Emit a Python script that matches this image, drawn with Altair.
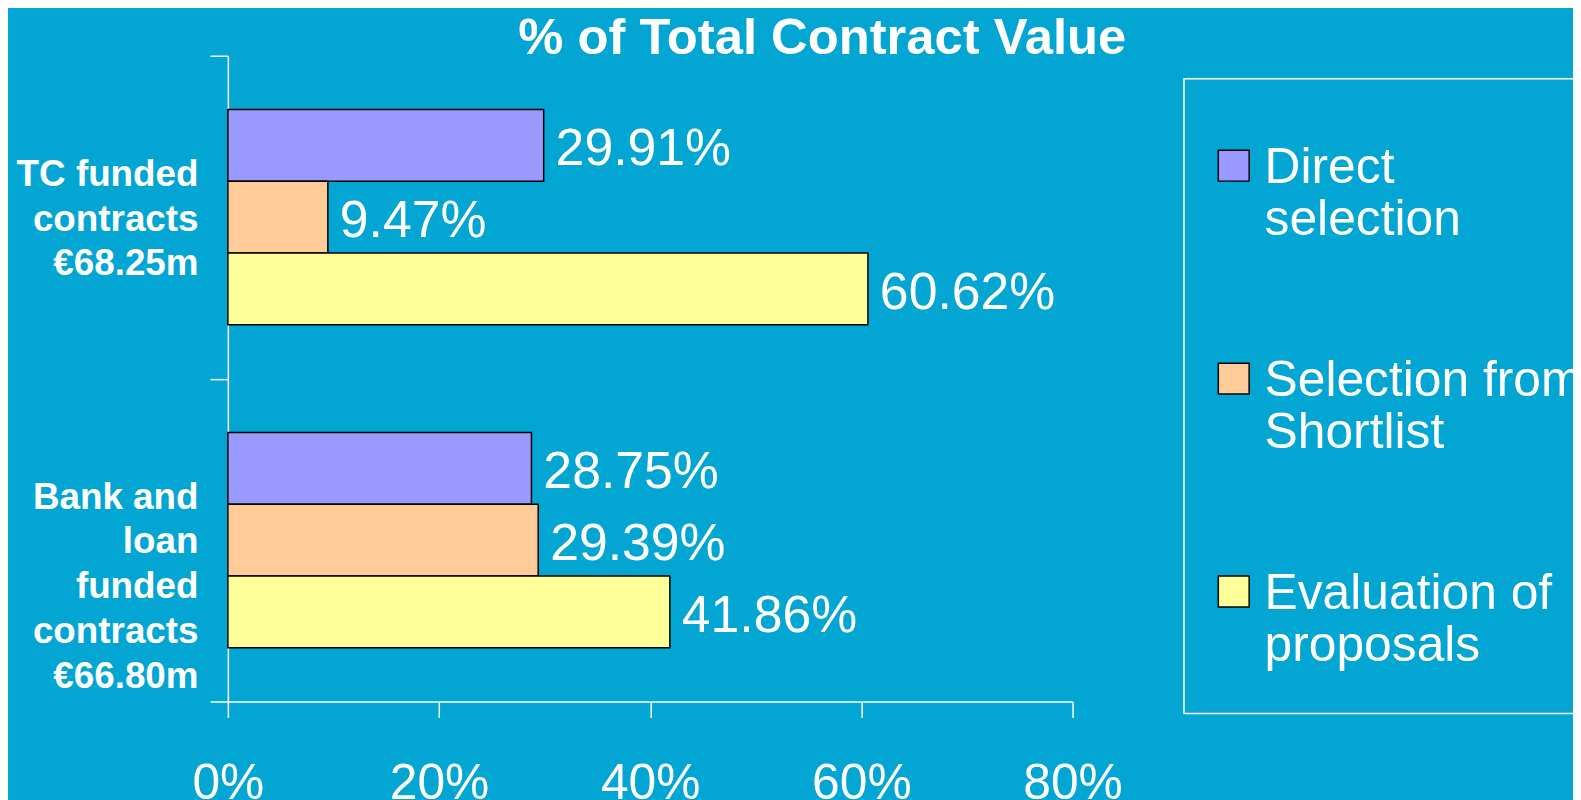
import altair as alt
import pandas as pd

# ---- data ----
categories = ["TC funded\ncontracts\n€68.25m", "Bank and\nloan\nfunded\ncontracts\n€66.80m"]
methods = ["Direct\nselection", "Selection from\nShortlist", "Evaluation of\nproposals"]
tc_values = [29.91, 9.47, 60.62]
bank_values = [28.75, 29.39, 41.86]
method_colors = ["#9999FF", "#FFCC99", "#FFFF99"]
x_ticks = [0, 20, 40, 60, 80]
title_text = "% of Total Contract Value"

rows = []
for cat, vals in zip(categories, [tc_values, bank_values]):
    for m, v in zip(methods, vals):
        rows.append({"contract": cat, "method": m, "share": v})
df = pd.DataFrame(rows)

FONT = "Liberation Sans"
BG = "#03A5D3"

x_enc = alt.X(
    "share:Q",
    scale=alt.Scale(domain=[0, 80]),
    axis=alt.Axis(
        title=None, values=x_ticks, labelExpr="datum.value + '%'",
        labelFont=FONT, labelFontSize=50, labelColor="white", labelPadding=42,
        labelFlush=False,
        tickSize=16, tickColor="white", tickWidth=1.5,
        domainColor="white", domainWidth=1.5, grid=False,
    ),
)
y_enc = alt.Y(
    "contract:N",
    sort=categories,
    scale=alt.Scale(paddingInner=0, paddingOuter=0),
    axis=alt.Axis(
        title=None, labelExpr="split(datum.label, '\\n')",
        labelFont=FONT, labelFontSize=37, labelFontWeight="bold", labelColor="white",
        labelLineHeight=45, labelPadding=12, labelLimit=400,
        labelAlign="right", labelBaseline="middle", labelOffset=-43,
        tickSize=18, tickColor="white", tickWidth=1.5, tickBand="extent",
        domainColor="white", domainWidth=1.5, grid=False,
    ),
)
yoff_enc = alt.YOffset("method:N", sort=methods,
                       scale=alt.Scale(paddingInner=0, paddingOuter=0.75))

bars = alt.Chart(df).mark_bar(stroke="black", strokeWidth=1.5).encode(
    x=x_enc,
    y=y_enc,
    yOffset=yoff_enc,
    color=alt.Color(
        "method:N", sort=methods,
        scale=alt.Scale(domain=methods, range=method_colors),
        legend=alt.Legend(
            title=None, orient="none", legendX=961, legendY=23, direction="vertical",
            symbolType="M-1,-2.13H1V-0.13H-1Z", symbolSize=961,
            symbolStrokeColor="black", symbolStrokeWidth=1.5, symbolOpacity=1,
            labelExpr="split(datum.label, '\\n')",
            labelFont=FONT, labelFontSize=50, labelColor="white",
            labelBaseline="alphabetic",
            labelOffset=6, labelLimit=600,
            clipHeight=160, rowPadding=54, padding=25, strokeColor="white",
        ),
    ),
)

labels = alt.Chart(df).transform_calculate(
    label="format(datum.share, '.2f') + '%'"
).mark_text(
    align="left", baseline="middle", dx=12, dy=4,
    font=FONT, fontSize=52, color="white",
).encode(
    x="share:Q",
    y=alt.Y("contract:N", sort=categories),
    yOffset=alt.YOffset("method:N", sort=methods),
    text="label:N",
)

chart = alt.layer(bars, labels).properties(
    width=849,
    height=649,
    title=alt.TitleParams(
        title_text, font=FONT, fontSize=51, fontWeight="bold", color="white",
        anchor="middle", frame="group", dx=173, dy=30, offset=2,
    ),
    autosize=alt.AutoSizeParams(type="none"),
    padding={"left": 221, "top": 46, "right": 503, "bottom": 97},
    background=BG,
).configure_view(stroke=None).configure_legend(
    strokeWidth=1.5,
)

chart.save("out.html", embed_options={"renderer": "svg", "actions": False})
